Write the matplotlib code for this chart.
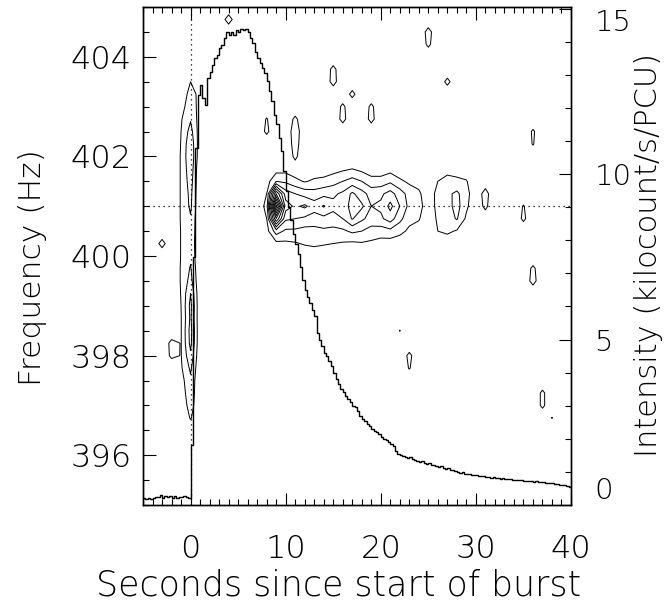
import matplotlib
matplotlib.use("Agg")
import matplotlib.pyplot as plt
from matplotlib.ticker import MultipleLocator
import numpy as np

# light curve, 0.25 s bins starting at t = -5 s (kilocount/s/PCU)
lc_t0, lc_dt = -5.0, 0.25
lc_rate = [
    0.20, 0.18, 0.22, 0.19, 0.21, 0.25, 0.23, 0.30, 0.22, 0.27, 0.24, 0.28, 0.21, 0.26, 0.22, 0.25, 0.23, 0.27, 0.24, 0.22,
    1.80, 7.50, 10.8, 12.4, 12.7, 12.3, 12.1, 12.9, 13.1, 13.3, 13.5, 13.6, 13.8, 13.9, 14.1, 14.3, 14.2, 14.3, 14.2, 14.35,
    14.3, 14.4, 14.35, 14.4, 14.3, 14.1, 13.95, 13.7, 13.5, 13.35, 13.2, 13.05, 12.8, 12.5, 12.2, 11.8, 11.5, 11.1, 10.7, 10.1,
    9.5, 9.0, 8.6, 8.2, 7.9, 7.6, 7.2, 6.8, 6.5, 6.3, 6.1, 5.9, 5.7, 5.2, 5.0, 4.8, 4.6, 4.5, 4.35, 4.2,
    4.0, 3.8, 3.65, 3.5, 3.4, 3.3, 3.2, 3.1, 3.0, 2.95, 2.85, 2.7, 2.6, 2.55, 2.45, 2.4, 2.3, 2.25, 2.2, 2.15,
    2.05, 2.0, 1.95, 1.9, 1.85, 1.78, 1.62, 1.55, 1.5, 1.48, 1.45, 1.42, 1.45, 1.38, 1.35, 1.33, 1.3, 1.32, 1.27, 1.25,
    1.27, 1.22, 1.2, 1.18, 1.16, 1.17, 1.12, 1.1, 1.11, 1.06, 1.05, 1.03, 1.0, 0.98, 1.0, 0.95, 0.93, 0.94, 0.91, 0.9,
    0.92, 0.88, 0.87, 0.88, 0.85, 0.86, 0.83, 0.84, 0.82, 0.83, 0.8, 0.81, 0.79, 0.78, 0.79, 0.77, 0.76, 0.77, 0.75, 0.76,
    0.74, 0.73, 0.74, 0.72, 0.71, 0.72, 0.7, 0.68, 0.69, 0.67, 0.66, 0.67, 0.65, 0.63, 0.62, 0.6, 0.61, 0.59, 0.57, 0.55,
]

# dynamic power spectrum: 1 s time columns, 0.25 Hz frequency rows
pow_times = np.arange(-5, 41, 1.0)
pow_freqs = np.arange(395.0, 405.01, 0.25)

# oscillation band, columns t = 7..32 s, rows 402.0 Hz down to 400.0 Hz
band_t0 = 7
band_f = [402.0, 401.75, 401.5, 401.25, 401.0, 400.75, 400.5, 400.25, 400.0]
band_cols = [
    [0, 0, 0, 0, 0, 0, 0, 0, 0],
    [0, 0.1, 0.5, 1.0, 1.45, 1.0, 0.6, 0.2, 0],
    [0, 0.5, 2.0, 7.0, 11.5, 7.0, 2.5, 0.7, 0],
    [0, 0.6, 1.8, 3.5, 4.5, 3.2, 1.8, 0.8, 0],
    [0, 0.3, 1.3, 3.0, 3.8, 3.0, 1.8, 0.9, 0.2],
    [0, 0.2, 0.9, 2.6, 4.2, 2.8, 1.6, 1.1, 0.3],
    [0, 0.3, 1.2, 2.4, 3.5, 2.5, 1.7, 1.2, 0.4],
    [0, 0.4, 1.3, 2.7, 4.1, 2.7, 1.8, 1.1, 0.3],
    [0.1, 0.6, 1.6, 2.8, 3.3, 2.6, 1.7, 1.0, 0.2],
    [0.2, 0.8, 2.0, 3.2, 3.6, 3.0, 1.8, 0.9, 0.2],
    [0.3, 1.0, 2.4, 4.2, 4.3, 4.1, 2.2, 0.8, 0.1],
    [0.1, 0.7, 2.0, 3.4, 4.2, 3.2, 2.0, 0.9, 0.1],
    [0, 0.4, 1.4, 2.6, 3.0, 2.6, 1.6, 0.8, 0],
    [0, 0.4, 1.4, 2.8, 3.2, 2.8, 1.5, 0.6, 0],
    [0, 0.6, 1.8, 3.4, 4.3, 3.5, 1.7, 0.5, 0],
    [0, 0.3, 1.2, 2.5, 3.0, 2.3, 1.3, 0.4, 0],
    [0, 0.2, 0.8, 1.6, 1.7, 1.3, 0.8, 0.2, 0],
    [0, 0.1, 0.6, 1.2, 1.4, 1.1, 0.5, 0.1, 0],
    [0, 0, 0.1, 0.3, 0.4, 0.2, 0, 0, 0],
    [0, 0.3, 1.0, 1.4, 1.3, 1.2, 1.0, 0.6, 0],
    [0, 0.5, 1.5, 1.8, 1.6, 1.5, 1.2, 0.4, 0],
    [0, 0.4, 1.3, 2.2, 2.4, 2.1, 0.9, 0.2, 0],
    [0, 0.2, 1.1, 1.4, 1.2, 0.8, 0.3, 0, 0],
    [0, 0, 0, 0.2, 0.2, 0, 0, 0, 0],
    [0, 0, 0.3, 1.5, 1.3, 0.3, 0, 0, 0],
    [0, 0, 0, 0, 0, 0, 0, 0, 0],
]

# burst rise, columns t = -1, 0, 1 s, rows 396.5 Hz up to 403.75 Hz
rise_t0 = -1
rise_f0 = 396.5
rise_cols = [
    [0, 0, 0.2, 0.4, 0.6, 0.85, 0.95, 0.95, 0.95, 0.95, 1.0, 1.05, 1.1, 1.1, 1.05,
     1.05, 1.05, 1.1, 1.1, 1.1, 1.1, 1.1, 1.1, 1.05, 1.0, 0.9, 0.6, 0.3, 0, 0],
    [0.3, 1.1, 1.5, 1.7, 1.8, 2.2, 2.8, 3.3, 3.4, 3.2, 3.3, 3.0, 2.4, 2.1, 1.8,
     1.7, 1.8, 1.9, 2.2, 2.3, 2.5, 2.7, 2.9, 2.8, 2.4, 1.9, 1.6, 1.4, 1.0, 0.3],
    [0, 0, 0, 0, 0, 0, 0, 0, 0, 0, 0, 0, 0, 0, 0,
     0, 0, 0, 0, 0, 0, 0, 0.2, 0.3, 0.4, 0.5, 0.6, 0.7, 0.6, 0.2],
]

# isolated noise peaks (t, f, power)
spots = [
    (4, 404.75, 1.6), (25, 404.5, 1.5), (25, 404.25, 1.3),
    (15, 403.75, 1.4), (15, 403.5, 1.5),
    (11, 402.75, 1.3), (11, 402.5, 1.8), (11, 402.25, 1.6), (11, 402.0, 1.3),
    (8, 402.75, 1.1), (8, 402.5, 1.3),
    (16, 403.0, 1.3), (16, 402.75, 1.45), (17, 403.25, 1.4), (19, 403.0, 1.3), (19, 402.75, 1.45),
    (27, 403.5, 1.4),
    (36, 402.5, 1.2), (36, 402.25, 1.1),
    (36, 399.75, 1.3), (36, 399.5, 1.5),
    (37, 397.25, 1.3), (37, 397.0, 1.3), (38, 396.75, 1.05),
    (23, 398.0, 1.35), (23, 397.75, 1.1), (22, 398.5, 1.05),
    (35, 401.0, 1.1), (35, 400.75, 1.3),
    (-3, 400.25, 1.5), (-2, 398.25, 1.4), (-2, 398.0, 1.3),
]

contour_levels = np.arange(1, 12)

# build the power grid
power = np.zeros((len(pow_freqs), len(pow_times)))
def put(t, f, p):
    i = int(round((f - pow_freqs[0]) / 0.25))
    j = int(round(t - pow_times[0]))
    power[i, j] = p
for k, col in enumerate(band_cols):
    for f, p in zip(band_f, col):
        put(band_t0 + k, f, p)
for k, col in enumerate(rise_cols):
    for m, p in enumerate(col):
        put(rise_t0 + k, rise_f0 + 0.25 * m, p)
for t, f, p in spots:
    put(t, f, p)

lc_edges = lc_t0 + lc_dt * np.arange(len(lc_rate) + 1)
lc_vals = np.append(lc_rate, lc_rate[-1])

fs = 23
plt.rcParams['font.family'] = 'DejaVu Sans'
plt.rcParams['font.weight'] = 'light'
plt.rcParams['axes.labelweight'] = 'light'

fig = plt.figure(figsize=(6.66, 6.01), dpi=100)
ax = fig.add_axes([143/666, 1 - 505/601, (571 - 143)/666, (505 - 7)/601])

ax.contour(pow_times, pow_freqs, power, levels=contour_levels, colors='black', linewidths=0.7)
ax.axvline(0, color='black', linestyle=(0, (1, 3)), linewidth=0.9)
ax.axhline(401, color='black', linestyle=(0, (1, 3)), linewidth=0.9)

ax.set_xlim(-5, 40)
ax.set_ylim(395, 405)
ax.xaxis.set_major_locator(MultipleLocator(10))
ax.xaxis.set_minor_locator(MultipleLocator(1))
ax.yaxis.set_minor_locator(MultipleLocator(0.5))
ax.set_yticks([396, 398, 400, 402, 404])
ax.tick_params(which='both', direction='in', top=True, right=False, width=0.8)
ax.tick_params(which='major', length=9)
ax.tick_params(which='minor', length=4.5)
ax.tick_params(axis='x', which='major', labelsize=fs, pad=21)
ax.tick_params(axis='y', which='major', labelsize=fs, pad=8)
ax.set_xlabel('Seconds since start of burst', fontsize=25, va='center', fontweight='light')
ax.xaxis.set_label_coords(0.458, -0.161)
ax.set_ylabel('Frequency (Hz)', fontsize=22.6, va='center', fontweight='light')
ax.yaxis.set_label_coords(-0.259, 0.476)

ax2 = ax.twinx()
ax2.step(lc_edges, lc_vals, where='post', color='black', linewidth=1.0)
ax2.set_ylim(0, 15.05)
ax2.set_yticks([0, 5, 10, 15])
ax2.yaxis.set_minor_locator(MultipleLocator(1))
ax2.tick_params(which='both', direction='in', width=0.8)
ax2.tick_params(which='major', length=9, labelsize=21, pad=17)
ax2.tick_params(which='minor', length=4.5)
ax2.set_ylabel('Intensity (kilocount/s/PCU)', fontsize=22, va='center', fontweight='light')
ax2.yaxis.set_label_coords(1.18, 0.502)

rticks = ax2.yaxis.get_major_ticks()
rticks[0].label2.set_verticalalignment('bottom')
rticks[-1].label2.set_verticalalignment('top')

for a in (ax, ax2):
    for s in a.spines.values():
        s.set_linewidth(1.0)

fig.savefig('out.png', dpi=100)
